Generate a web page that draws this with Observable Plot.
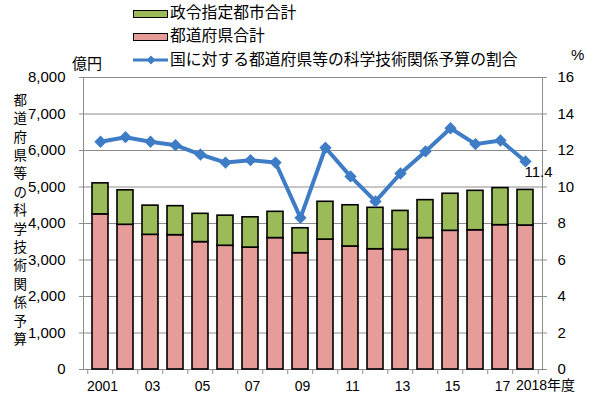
<!DOCTYPE html>
<html>
<head>
<meta charset="utf-8">
<script src="https://cdn.jsdelivr.net/npm/d3@7"></script>
<script src="https://cdn.jsdelivr.net/npm/@observablehq/plot@0.6"></script>
<style>
  html, body { margin: 0; padding: 0; background: #fff; }
  #wrap { position: relative; width: 600px; height: 399px; font-family: "Liberation Sans", "Noto Sans CJK JP", sans-serif; }
  #legend { position: absolute; left: 133px; top: 0; font-family: "Noto Sans CJK JP", sans-serif; font-size: 15.8px; color: #000; }
  .row { position: absolute; left: 0; white-space: nowrap; height: 20px; line-height: 20px; }
  .sw { position: absolute; left: 0; top: 7px; width: 33px; height: 6px; border: 1px solid #000; }
  .lbl { position: absolute; left: 37px; top: -1px; }
  .unit { position: absolute; font-family: "Noto Sans CJK JP", sans-serif; font-size: 15px; }
</style>
</head>
<body>
<div id="wrap">
  <div id="chart"></div>
  <div id="legend"></div>
  <div class="unit" style="left:72px; top:52px;">億円</div>
  <div class="unit" style="left:571px; top:46px; font-family:'Liberation Sans',sans-serif;">%</div>
</div>
<script>
const years = [2001, 2002, 2003, 2004, 2005, 2006, 2007, 2008, 2009, 2010, 2011, 2012, 2013, 2014, 2015, 2016, 2017, 2018];
const prefTotal = [4250, 3965, 3690, 3680, 3490, 3390, 3340, 3600, 3187, 3560, 3370, 3295, 3280, 3600, 3800, 3815, 3955, 3945];
const cityTotal = [850, 945, 800, 795, 775, 825, 830, 720, 683, 1035, 1130, 1135, 1065, 1040, 1015, 1080, 1015, 975];
const ratio = [12.48, 12.73, 12.48, 12.29, 11.78, 11.34, 11.47, 11.34, 8.31, 12.15, 10.58, 9.21, 10.74, 11.95, 13.22, 12.35, 12.55, 11.4];
const seriesNames = ["都道府県合計", "政令指定都市合計"];
const lineName = "国に対する都道府県等の科学技術関係予算の割合";
const xTickYears = [2001, 2003, 2005, 2007, 2009, 2011, 2013, 2015, 2017];
const xTickLabels = ["2001", "03", "05", "07", "09", "11", "13", "15", "17"];
const lastLabel = "2018年度";
const leftTicks = [0, 1000, 2000, 3000, 4000, 5000, 6000, 7000, 8000];
const rightTicks = [0, 2, 4, 6, 8, 10, 12, 14, 16];
const yLabel = "都道府県等の科学技術関係予算";

const colors = {pref: "#e69c99", city: "#9bbb59", line: "#3f7cc6"};
const ratioScale = 8000 / 16;

const barRows = [];
years.forEach((y, i) => barRows.push({year: y, series: seriesNames[0], value: prefTotal[i]}));
years.forEach((y, i) => barRows.push({year: y, series: seriesNames[1], value: cityTotal[i]}));
const lineRows = years.map((y, i) => ({year: y, ratio: ratio[i]}));

const plot = Plot.plot({
  width: 600,
  height: 399,
  marginLeft: 83,
  marginRight: 58,
  marginTop: 77,
  marginBottom: 30,
  style: {fontFamily: "'Liberation Sans', 'Noto Sans CJK JP', sans-serif", fontSize: "15px", color: "#000", background: "#fff"},
  x: {type: "band", domain: years, paddingInner: 0.37, paddingOuter: 0.185},
  y: {domain: [0, 8000]},
  color: {domain: seriesNames, range: [colors.pref, colors.city]},
  marks: [
    Plot.gridY(leftTicks, {stroke: "#8c8c8c", strokeOpacity: 1}),
    Plot.frame({stroke: "#8c8c8c"}),
    Plot.barY(barRows, {x: "year", y: "value", fill: "series", stroke: "#000", strokeWidth: 1.6}),
    Plot.line(lineRows, {x: "year", y: d => d.ratio * ratioScale, stroke: colors.line, strokeWidth: 4}),
    Plot.dot(lineRows, {x: "year", y: d => d.ratio * ratioScale, symbol: "diamond2", r: 4.6, fill: colors.line, stroke: colors.line}),
    Plot.text(lineRows.slice(-1), {x: "year", y: d => d.ratio * ratioScale, text: d => d.ratio.toFixed(1), textAnchor: "middle", dx: 13, dy: 11, fontSize: 15}),
    Plot.axisY(leftTicks, {anchor: "left", tickFormat: d3.format(","), tickSize: 4, tickPadding: 14, stroke: "#8c8c8c", label: null}),
    Plot.axisY(rightTicks.map(v => v * ratioScale), {anchor: "right", tickFormat: d => d / ratioScale, tickSize: 4, tickPadding: 11, stroke: "#8c8c8c", label: null}),
    Plot.axisX(years, {tickSize: 5, text: null, dx: -12.75, stroke: "#8c8c8c", label: null}),
    Plot.axisX([years[years.length - 1]], {tickSize: 5, text: null, dx: 12.75, stroke: "#8c8c8c", label: null}),
    Plot.axisX(xTickYears, {tickSize: 0, tickPadding: 12, tickFormat: (d, i) => xTickLabels[xTickYears.indexOf(d)], fontSize: 14, dx: 2, label: null}),
    Plot.text([lastLabel], {x: () => years[years.length - 1], frameAnchor: "bottom", text: d => d, dy: 20, dx: 20, fontSize: 14}),
    Plot.text([yLabel], {frameAnchor: "left", text: d => d.split("").join("\n"), dx: -70, dy: -5, lineHeight: 1.363, fontSize: 13.5, fontFamily: "'Noto Sans CJK JP', sans-serif"})
  ]
});
document.getElementById("chart").appendChild(plot);

// legend
const legend = document.getElementById("legend");
const legendItems = [
  {name: seriesNames[1], kind: "box", color: colors.city, top: 3},
  {name: seriesNames[0], kind: "box", color: colors.pref, top: 26},
  {name: lineName, kind: "line", color: colors.line, top: 50}
];
legendItems.forEach(it => {
  const row = document.createElement("div");
  row.className = "row";
  row.style.top = it.top + "px";
  if (it.kind === "box") {
    const sw = document.createElement("div");
    sw.className = "sw";
    sw.style.background = it.color;
    row.appendChild(sw);
  } else {
    const svgNS = "http://www.w3.org/2000/svg";
    const s = document.createElementNS(svgNS, "svg");
    s.setAttribute("width", 36); s.setAttribute("height", 20);
    s.style.position = "absolute"; s.style.left = "0"; s.style.top = "0";
    const l = document.createElementNS(svgNS, "line");
    l.setAttribute("x1", 0); l.setAttribute("x2", 35); l.setAttribute("y1", 10); l.setAttribute("y2", 10);
    l.setAttribute("stroke", it.color); l.setAttribute("stroke-width", 3);
    s.appendChild(l);
    const p = document.createElementNS(svgNS, "path");
    p.setAttribute("d", d3.symbol(d3.symbolDiamond2, 50)());
    p.setAttribute("transform", "translate(18,10)");
    p.setAttribute("fill", it.color);
    s.appendChild(p);
    row.appendChild(s);
  }
  const lbl = document.createElement("span");
  lbl.className = "lbl";
  lbl.textContent = it.name;
  row.appendChild(lbl);
  legend.appendChild(row);
});
</script>
</body>
</html>
